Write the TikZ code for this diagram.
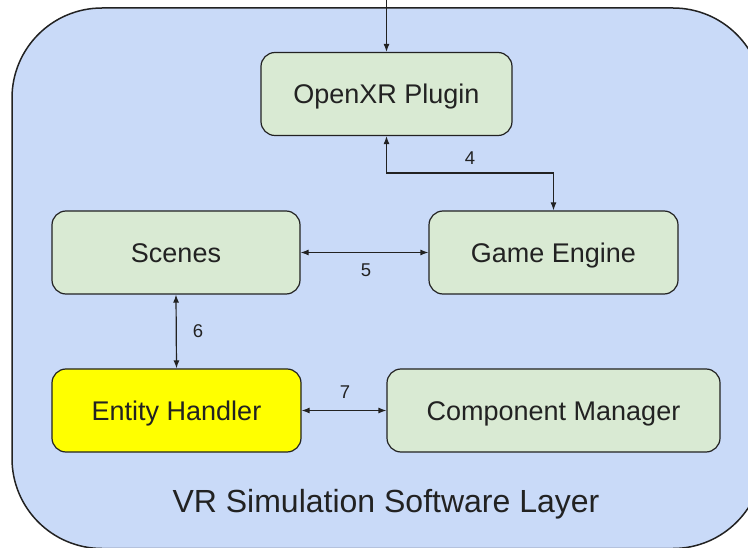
\documentclass[tikz,border=0pt]{standalone}
\usepackage{fontspec}
\setmainfont{Liberation Sans}
\usetikzlibrary{arrows.meta}
\definecolor{layerblue}{HTML}{C9DAF8}
\definecolor{boxgreen}{HTML}{D9EAD3}
\definecolor{boxyellow}{HTML}{FFFF00}
\definecolor{ink}{HTML}{222222}
\begin{document}
\begin{tikzpicture}[x=1pt,y=-1pt,
  box/.style={draw=ink,line width=1.2pt,rounded corners=14pt,fill=boxgreen,
    minimum height=83pt,inner sep=0pt,text=ink,
    font=\fontsize{27}{30}\selectfont,text height=19.4pt,text depth=0pt},
  conn/.style={draw=ink,line width=1.2pt,{Latex[length=8pt,width=6pt]}-{Latex[length=8pt,width=6pt]}},
  oneway/.style={draw=ink,line width=1.2pt,-{Latex[length=8pt,width=6pt]}},
  lbl/.style={text=ink,font=\fontsize{18.5}{20}\selectfont,inner sep=0pt}]
\useasboundingbox (0,0) rectangle (748,548);
\fill[white] (0,0) rectangle (748,548);
\begin{scope}
\clip (0,0) rectangle (748,548);
\draw[fill=layerblue,draw=ink,line width=1.5pt,rounded corners=90pt] (12,8) rectangle (763,548.5);
\end{scope}
\node[box,minimum width=251pt] (oxr) at (386.5,94) {OpenXR Plugin};
\node[box,minimum width=249pt] (ge) at (553.5,252.5) {Game Engine};
\node[box,minimum width=248pt] (sc) at (176,252.5) {Scenes};
\node[box,minimum width=249pt,fill=boxyellow] (eh) at (176.5,410.5) {Entity Handler};
\node[box,minimum width=333pt] (cm) at (553.5,410.5) {Component Manager};
\coordinate (topin) at (386.5,0);
\draw[oneway] (topin) -- (oxr.north);
\draw[conn] (oxr.south) -- ++(0,37) -| (ge.north);
\draw[conn] (sc.east) -- (ge.west);
\draw[conn] (sc.south) -- (eh.north);
\draw[conn] (eh.east) -- (cm.west);
\node[lbl] (l4) at (470,158) {4};
\node[lbl] (l5) at (366,270) {5};
\node[lbl] (l6) at (198,331) {6};
\node[lbl] (l7) at (345,392) {7};
\node[text=ink,font=\fontsize{32}{36}\selectfont,anchor=base,inner sep=0pt] (title) at (386,512) {VR Simulation Software Layer};
\end{tikzpicture}
\end{document}
